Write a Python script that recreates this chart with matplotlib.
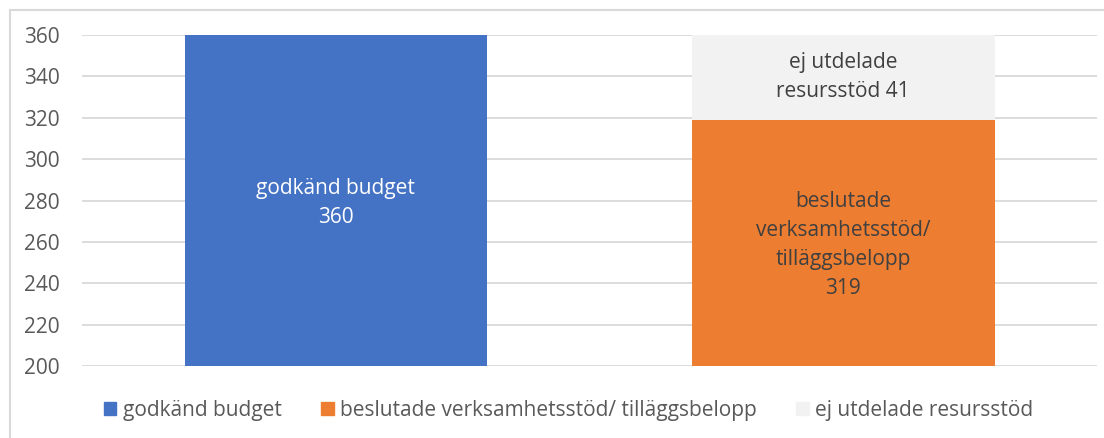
import matplotlib.pyplot as plt
from matplotlib.patches import Rectangle, Patch

categories = ["budget", "utfall"]
budget = [360, 0]
beslutade = [0, 319]
ej_utdelade = [0, 41]

series_names = ["godkänd budget", "beslutade verksamhetsstöd/ tilläggsbelopp", "ej utdelade resursstöd"]
colors = ["#4472C4", "#ED7D31", "#F2F2F2"]

plt.rcParams['font.family'] = ['Open Sans', 'DejaVu Sans']

fig = plt.figure(figsize=(11.04, 4.38), dpi=100)
ax = fig.add_axes([0.0743, 0.1644, 0.9194, 0.7556])

x = range(len(categories))
w = 0.596
ax.bar(x, budget, w, color=colors[0], zorder=2)
ax.bar(x, beslutade, w, color=colors[1], zorder=2)
ax.bar(x, ej_utdelade, w, bottom=beslutade, color=colors[2], zorder=2)

ax.set_ylim(200, 360)
ax.set_xlim(-0.5, 1.5)
ax.set_yticks(range(200, 361, 20))
ax.set_xticks([])
ax.tick_params(axis='y', length=0, pad=16, labelsize=15, labelcolor="#595959")
for s in ax.spines.values():
    s.set_visible(False)
ax.grid(axis='y', color="#D9D9D9", linewidth=1.3, zorder=0)

# labels inside bars
ax.text(0, (200 + budget[0]) / 2 - 1, "godkänd budget\n%d" % budget[0], ha='center', va='center',
        color='white', fontsize=15, linespacing=1.5, zorder=3)
ax.text(1, (200 + beslutade[1]) / 2 - 1, "beslutade\nverksamhetsstöd/\ntilläggsbelopp\n%d" % beslutade[1],
        ha='center', va='center', color='#404040', fontsize=15, linespacing=1.5, zorder=3)
ax.text(1, beslutade[1] + ej_utdelade[1] / 2, "ej utdelade\nresursstöd %d" % ej_utdelade[1],
        ha='center', va='center', color='#404040', fontsize=15, linespacing=1.5, zorder=3)

handles = [Patch(color=c) for c in colors]
fig.legend(handles, series_names, loc='center', bbox_to_anchor=(0.515, 0.063), ncol=3,
           frameon=False, fontsize=15, handlelength=0.6, handleheight=0.6,
           handletextpad=0.3, columnspacing=1.9, labelcolor="#595959")

# outer chart border (cropped on right/bottom)
fig.patches.append(Rectangle((10 / 1104, -0.1), 1.2, 1 - 10 / 438 + 0.1, transform=fig.transFigure,
                             fill=False, edgecolor="#D9D9D9", linewidth=1.5))

fig.savefig("out.png", dpi=100)
